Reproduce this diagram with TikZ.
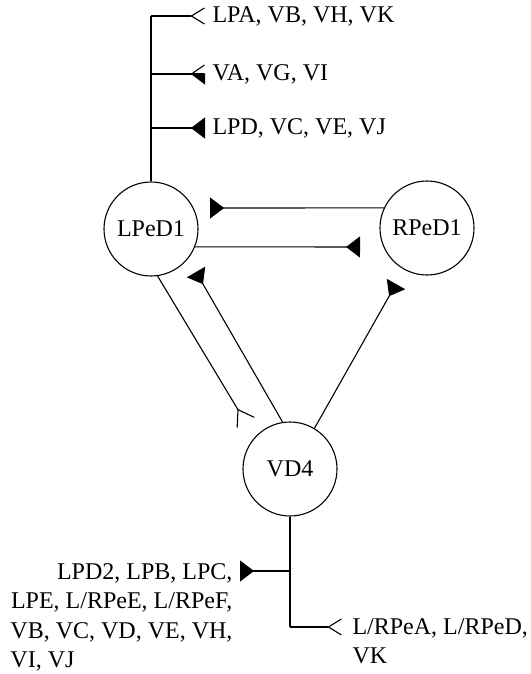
\documentclass[tikz,border=0pt]{standalone}
\usepackage{fontspec}
\setmainfont{Liberation Serif}
\usetikzlibrary{positioning,arrows.meta}

\begin{document}
\begin{tikzpicture}[x=1pt, y=-1pt, line width=1.1pt,
  cell/.style={circle, draw, minimum size=94pt, inner sep=0pt, font=\fontsize{24}{28}\selectfont},
  lab/.style={inner sep=0pt, font=\fontsize{24}{29.5}\selectfont}]
  \useasboundingbox (0,0) rectangle (530,674);

  \tikzset{exc/.style={-{Triangle[reversed, length=14pt, width=21pt]}}}
  \tikzset{inh/.style={-{Straight Barb[reversed, length=13pt, width=16pt]}}}

  \node[cell] (LPeD1) at (151,229) {LPeD1};
  \node[cell] (RPeD1) at (427,228) {RPeD1};
  \node[cell] (VD4) at (290,469) {VD4};

  % outputs of LPeD1
  \coordinate (top) at (151,16);
  \coordinate (t1) at (151,74);
  \coordinate (t2) at (151,128);
  \draw (LPeD1) -- (top);
  \draw[inh] (top) -- ++(54,0) node[lab, anchor=west, xshift=7pt] (oLPA) {LPA, VB, VH, VK};
  \draw[-{Straight Barb[reversed, left, length=13pt, width=18pt]}] (t1) -- ++(54,0);
  \draw[-{Triangle[reversed, right, length=14pt, width=21pt]}] (t1) -- ++(54,0)
    node[lab, anchor=west, xshift=7pt] (oVA) {VA, VG, VI};
  \draw[exc] (t2) -- ++(54,0) node[lab, anchor=west, xshift=7pt] (oLPD) {LPD, VC, VE, VJ};

  % connections between the cells
  \coordinate (eRL) at (210,208);
  \coordinate (eLR) at (360,247);
  \coordinate (eVL) at (196,272);
  \coordinate (eLV) at (246,423);
  \coordinate (eVR) at (396,284);
  \draw[exc] (RPeD1.155) -- (eRL);
  \draw[exc] (LPeD1.-22) -- (eLR);
  \draw[exc] (VD4.99) -- (eVL);
  \draw[-{Straight Barb[reversed, length=15pt, width=20pt]}] (LPeD1.-82) -- (eLV);
  \draw[exc] (VD4.59) -- (eVR);

  % outputs of VD4
  \coordinate (bot) at (290,627);
  \coordinate (b1) at (290,571);
  \coordinate (eB1) at (240,571);
  \coordinate (eBot) at (342,627);
  \draw (VD4) -- (bot);
  \draw[exc] (b1) -- (eB1);
  \draw[inh] (bot) -- (eBot);
  \node[lab, anchor=north east] (oLPD2) at (233,558) {%
    \begin{tabular}{@{}r@{}}
      \strut LPD2, LPB, LPC,\\
      \strut LPE, L/RPeE, L/RPeF,\\
      \strut VB, VC, VD, VE, VH,\\
      \multicolumn{1}{@{}l@{}}{\strut VI, VJ}
    \end{tabular}};
  \node[lab, anchor=north west, align=left] (oLRPeA) at (352,618) {L/RPeA, L/RPeD,\\VK};
\end{tikzpicture}
\end{document}
